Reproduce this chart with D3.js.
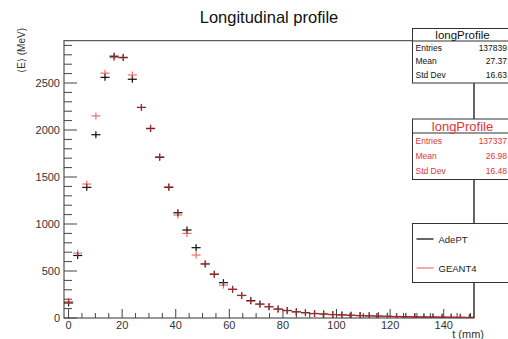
<!DOCTYPE html>
<html>
<head>
	<script src="https://d3js.org/d3.v7.min.js"></script>
	<title>Longitudinal profile</title>
	<style type="text/css">
		body {
			margin: 0;
			background: #fff;
		}
		svg text {
			font-family: "Liberation Sans", Arial, sans-serif;
		}
	</style>
</head>
<body>
<div id="chart"></div>

<script>
// bin centres in mm (bin width 3.4 mm)
var binCenters = [0, 3.4, 6.8, 10.2, 13.6, 17, 20.4, 23.8, 27.2, 30.6,
	34, 37.4, 40.8, 44.2, 47.6, 51, 54.4, 57.8, 61.2, 64.6,
	68, 71.4, 74.8, 78.2, 81.6, 85, 88.4, 91.8, 95.2, 98.6,
	102, 105.4, 108.8, 112.2, 115.6, 119, 122.4, 125.8, 129.2, 132.6,
	136, 139.4, 142.8, 146.2, 149.6];
var binWidth = 3.4;

// <E> (MeV) per bin
var adeptValues = [160, 665, 1390, 1950, 2560, 2785, 2770, 2540, 2240, 2015,
	1710, 1390, 1120, 936, 748, 575, 465, 376, 305, 240,
	185, 148, 120, 95, 80, 66, 57, 48, 42, 37,
	33, 29, 26, 23, 20, 18, 16, 14, 12, 11,
	10, 9, 8, 7, 6];
var geant4Values = [175, 690, 1425, 2150, 2605, 2770, 2775, 2585, 2240, 2020,
	1716, 1395, 1096, 900, 670, 575, 468, 350, 305, 240,
	180, 146, 122, 92, 78, 64, 55, 46, 41, 36,
	32, 28, 25, 22, 20, 17, 15, 13, 12, 10,
	9, 8, 7, 6, 5];

var xTicks = [0, 20, 40, 60, 80, 100, 120, 140];
var yTicks = [0, 500, 1000, 1500, 2000, 2500];

var statsBoxes = [
	{name: "longProfile", entries: "137839", mean: "27.37", std: "16.63", color: "#111"},
	{name: "longProfile", entries: "137337", mean: "26.98", std: "16.48", color: "#e03535"}
];
var legendNames = ["AdePT", "GEANT4"];
var seriesColors = ["#000", "#e03535"];

function drawChart() {
	var width = 508, height = 339;
	var svg = d3.select("#chart").append("svg")
		.attr("width", width)
		.attr("height", height);

	var left = 64, right = 474, top = 40.7, bottom = 318;

	var x = d3.scaleLinear().domain([-1.7, 151.3]).range([left, right]);
	var y = d3.scaleLinear().domain([0, 2950]).range([bottom, top]);

	// title
	svg.append("text")
		.attr("x", 269).attr("y", 23)
		.attr("text-anchor", "middle")
		.style("font-size", "16.5px")
		.attr("fill", "#111")
		.text("Longitudinal profile");

	// frame
	svg.append("rect")
		.attr("x", left).attr("y", top)
		.attr("width", right - left).attr("height", bottom - top)
		.attr("fill", "none").attr("stroke", "#333").attr("stroke-width", 1);

	// y ticks (inside)
	var yMinor = d3.range(0, 2950, 100);
	svg.selectAll(".ymin").data(yMinor).enter().append("line")
		.attr("x1", left).attr("x2", function(d) { return d % 500 === 0 ? left + 13 : left + 8; })
		.attr("y1", function(d) { return y(d); }).attr("y2", function(d) { return y(d); })
		.attr("stroke", "#444").attr("stroke-width", 1);
	svg.selectAll(".ylab").data(yTicks).enter().append("text")
		.attr("x", left - 4).attr("y", function(d) { return y(d) + 4; })
		.attr("text-anchor", "end")
		.style("font-size", "11px")
		.attr("fill", "#333")
		.text(function(d) { return d; });

	// x ticks (inside)
	var xMinor = d3.range(0, 151, 5);
	svg.selectAll(".xmin").data(xMinor).enter().append("line")
		.attr("x1", function(d) { return x(d); }).attr("x2", function(d) { return x(d); })
		.attr("y1", bottom).attr("y2", function(d) { return d % 20 === 0 ? bottom - 9 : bottom - 5; })
		.attr("stroke", "#444").attr("stroke-width", 1);
	svg.selectAll(".xlab").data(xTicks).enter().append("text")
		.attr("x", function(d) { return x(d); }).attr("y", 329)
		.attr("text-anchor", "middle")
		.style("font-size", "11px")
		.attr("fill", "#333")
		.text(function(d) { return d; });

	// axis titles
	svg.append("text")
		.attr("x", 484).attr("y", 338)
		.attr("text-anchor", "end")
		.style("font-size", "11px")
		.attr("fill", "#333")
		.text("t (mm)");
	svg.append("text")
		.attr("transform", "translate(25,28) rotate(-90)")
		.attr("text-anchor", "end")
		.style("font-size", "10px")
		.attr("fill", "#333")
		.text("\u27E8E\u27E9 (MeV)");

	// data markers: horizontal bar = bin width, vertical = marker
	var series = [adeptValues, geant4Values];
	series.forEach(function(vals, si) {
		var g = svg.append("g")
			.attr("stroke", seriesColors[si])
			.attr("stroke-width", 1.2)
			.attr("opacity", si === 1 ? 0.7 : 0.95);
		var pts = vals.map(function(v, i) { return {x: binCenters[i], v: v}; });
		g.selectAll(".h").data(pts).enter().append("line")
			.attr("x1", function(d) { return x(d.x - binWidth / 2); })
			.attr("x2", function(d) { return x(d.x + binWidth / 2); })
			.attr("y1", function(d) { return y(d.v); })
			.attr("y2", function(d) { return y(d.v); });
		g.selectAll(".v").data(pts).enter().append("line")
			.attr("x1", function(d) { return x(d.x); })
			.attr("x2", function(d) { return x(d.x); })
			.attr("y1", function(d) { return Math.min(bottom, y(d.v) + 3.5); })
			.attr("y2", function(d) { return y(d.v) - 3.5; });
	});

	// connector line behind boxes
	svg.append("line")
		.attr("x1", right).attr("x2", right)
		.attr("y1", 83).attr("y2", bottom)
		.attr("stroke", "#333");

	// stats boxes
	var boxTops = [28.5, 119];
	statsBoxes.forEach(function(s, i) {
		var g = svg.append("g").attr("transform", "translate(412.5," + boxTops[i] + ")");
		g.append("rect").attr("width", 100).attr("height", i === 0 ? 54.5 : 60.5)
			.attr("fill", "#fff").attr("stroke", "#333");
		var titleH = i === 0 ? 12.5 : 14;
		g.append("line").attr("x1", 0).attr("x2", 100).attr("y1", titleH).attr("y2", titleH)
			.attr("stroke", "#333");
		g.append("text").attr("x", 50).attr("y", titleH - 2)
			.attr("text-anchor", "middle")
			.style("font-size", i === 0 ? "11.5px" : "13px")
			.attr("fill", s.color)
			.text(s.name);
		var rowH = i === 0 ? 13.7 : 15;
		var rows = [["Entries", s.entries], ["Mean", s.mean], ["Std Dev", s.std]];
		rows.forEach(function(r, j) {
			var yy = titleH + rowH * (j + 1) - 4;
			g.append("text").attr("x", 3).attr("y", yy)
				.style("font-size", "8.5px").attr("fill", s.color).text(r[0]);
			g.append("text").attr("x", 94.5).attr("y", yy)
				.attr("text-anchor", "end")
				.style("font-size", "8.5px").attr("fill", s.color).text(r[1]);
		});
	});

	// legend
	var lg = svg.append("g").attr("transform", "translate(412.5,223.5)");
	lg.append("rect").attr("width", 100).attr("height", 59)
		.attr("fill", "#fff").attr("stroke", "#333");
	legendNames.forEach(function(n, i) {
		var yy = 15.5 + i * 29;
		lg.append("line").attr("x1", 4).attr("x2", 21).attr("y1", yy).attr("y2", yy)
			.attr("stroke", seriesColors[i]).attr("stroke-width", 1.2)
			.attr("opacity", i === 1 ? 0.7 : 1);
		lg.append("text").attr("x", 26).attr("y", yy + 3.5)
			.style("font-size", "9.5px").attr("fill", "#222").text(n);
	});
}

drawChart();
</script>
</body>
</html>
